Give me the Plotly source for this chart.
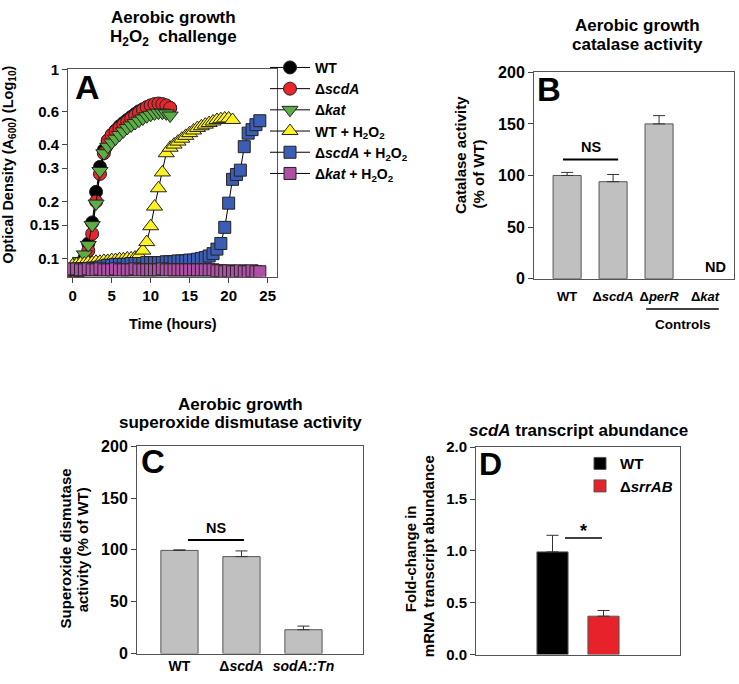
import plotly.graph_objects as go

W, H = 739, 684
FONT = "Liberation Sans, Arial, sans-serif"

# ---------------- Panel A data (OD600, log scale) ----------------
hours = [0, 0.5, 1, 1.5, 2, 2.5, 3, 3.5, 4, 4.5, 5, 5.5, 6, 6.5, 7, 7.5, 8, 8.5, 9, 9.5,
         10, 10.5, 11, 11.5, 12, 12.5, 13, 13.5, 14, 14.5, 15, 15.5, 16, 16.5, 17, 17.5,
         18, 18.5, 19, 19.5, 20, 20.5, 21, 21.5, 22, 22.5, 23, 23.5, 24]

od_wt = [0.085, 0.087, 0.09, 0.1, 0.12, 0.155, 0.225, 0.305, 0.375, 0.42, 0.45, 0.475, 0.5,
         0.52, 0.54, 0.56, 0.58, 0.6, 0.615, 0.63, 0.64, 0.65, 0.65, 0.65, 0.64, 0.625]
od_scda = [0.08, 0.082, 0.086, 0.095, 0.11, 0.135, 0.2, 0.28, 0.36, 0.42, 0.45, 0.47, 0.49,
           0.51, 0.53, 0.55, 0.57, 0.59, 0.61, 0.63, 0.645, 0.655, 0.66, 0.655, 0.645, 0.625]
od_kat = [0.085, 0.09, 0.097, 0.105, 0.118, 0.15, 0.195, 0.29, 0.36, 0.39, 0.41, 0.43, 0.45,
          0.47, 0.49, 0.505, 0.52, 0.535, 0.55, 0.565, 0.575, 0.585, 0.59, 0.59, 0.585, 0.57]
od_wt_h2o2 = [0.092, 0.093, 0.094, 0.094, 0.095, 0.095, 0.096, 0.096, 0.097, 0.097, 0.098,
              0.098, 0.099, 0.099, 0.1, 0.1, 0.101, 0.104, 0.11, 0.122, 0.148, 0.188, 0.235,
              0.285, 0.36, 0.385, 0.4, 0.415, 0.43, 0.445, 0.46, 0.475, 0.49, 0.5, 0.51, 0.52,
              0.53, 0.54, 0.545, 0.55, 0.55, 0.54]
od_scda_h2o2 = [0.087, 0.087, 0.088, 0.088, 0.088, 0.089, 0.089, 0.09, 0.091,
                0.092, 0.092, 0.093, 0.093, 0.093, 0.093, 0.094, 0.094, 0.094, 0.094, 0.095,
                0.095, 0.095, 0.095, 0.095, 0.096, 0.096, 0.096, 0.097, 0.097, 0.097, 0.098,
                0.098, 0.099, 0.1, 0.101, 0.103,
                0.106, 0.112, 0.12, 0.146, 0.196, 0.262, 0.278, 0.293, 0.39, 0.46, 0.48,
                0.51, 0.535]
od_kat_h2o2 = [0.088, 0.088, 0.087, 0.087, 0.088, 0.087, 0.087, 0.088, 0.087, 0.087,
               0.087, 0.088, 0.087, 0.087, 0.087, 0.087, 0.088, 0.087, 0.087, 0.087,
               0.087, 0.087, 0.087, 0.088, 0.087, 0.087, 0.087, 0.087, 0.087, 0.087,
               0.087, 0.087, 0.087, 0.087, 0.087, 0.087, 0.087, 0.086, 0.086, 0.085,
               0.086, 0.085, 0.085, 0.086, 0.085, 0.085, 0.086, 0.085, 0.085]

a_names = ["WT", "Δ<i>scdA</i>", "Δ<i>kat</i>", "WT + H<sub>2</sub>O<sub>2</sub>",
           "Δ<i>scdA</i> + H<sub>2</sub>O<sub>2</sub>", "Δ<i>kat</i> + H<sub>2</sub>O<sub>2</sub>"]
a_series = [od_wt, od_scda, od_kat, od_wt_h2o2, od_scda_h2o2, od_kat_h2o2]
a_colors = ["#000000", "#E8262B", "#5BAE44", "#FFF21E", "#3C5DB6", "#B04FA6"]
a_symbols = ["circle", "circle", "triangle-down", "triangle-up", "square", "square"]
a_sizes = [13, 13, 14, 14, 12, 12]
a_yticks = [0.1, 0.15, 0.2, 0.3, 0.4, 0.6, 1]
a_yticktext = ["0.1", "0.15", "0.2", "0.3", "0.4", "0.6", "1"]
a_xticks = [0, 5, 10, 15, 20, 25]

# ---------------- Panel B data (catalase) ----------------
b_categories = ["WT", "Δ<i>scdA</i>", "Δ<i>perR</i>", "Δ<i>kat</i>"]
b_values = [100, 94, 150, None]
b_errors = [3, 7, 8, None]

# ---------------- Panel C data (SOD) ----------------
c_categories = ["WT", "Δ<i>scdA</i>", "<i>sodA::Tn</i>"]
c_values = [99.5, 93.5, 23]
c_errors = [0.5, 5.5, 3.5]

# ---------------- Panel D data (scdA transcript) ----------------
d_categories = ["WT", "Δ<i>srrAB</i>"]
d_values = [0.99, 0.37]
d_errors = [0.16, 0.055]
d_colors = ["#000000", "#E8222A"]


def dom_x(p0, p1):
    return [p0 / W, p1 / W]


def dom_y(top, bottom):
    return [1 - bottom / H, 1 - top / H]


def tfont(size):
    return dict(size=size, family=FONT, color="black", weight="bold")


fig = go.Figure()

for name, vals, col, sym, sz in zip(a_names, a_series, a_colors, a_symbols, a_sizes):
    fig.add_trace(go.Scatter(
        x=hours[:len(vals)], y=vals, mode="lines+markers", name=name,
        line=dict(color="black", width=1),
        marker=dict(symbol=sym, size=sz, color=col, line=dict(color="#222222", width=1)),
        xaxis="x", yaxis="y", legend="legend"))

bar_line = dict(color="#555555", width=1)

fig.add_trace(go.Bar(
    x=b_categories, y=b_values, width=0.61,
    marker=dict(color="#C0C0C0", line=bar_line),
    error_y=dict(type="data", array=b_errors, arrayminus=[0] * len(b_errors), symmetric=False,
                 color="#333333", thickness=1, width=6),
    xaxis="x2", yaxis="y2", showlegend=False))

fig.add_trace(go.Bar(
    x=c_categories, y=c_values, width=0.6,
    marker=dict(color="#C0C0C0", line=bar_line),
    error_y=dict(type="data", array=c_errors, arrayminus=[0] * len(c_errors), symmetric=False,
                 color="#333333", thickness=1, width=6),
    xaxis="x3", yaxis="y3", showlegend=False))

for cat, val, err, col in zip(d_categories, d_values, d_errors, d_colors):
    fig.add_trace(go.Bar(
        x=[cat], y=[val], width=0.61, name=cat,
        marker=dict(color=col, line=bar_line),
        error_y=dict(type="data", array=[err], arrayminus=[0], symmetric=False,
                     color="#333333", thickness=1, width=6),
        xaxis="x4", yaxis="y4", legend="legend2"))

base = dict(showline=True, mirror=True, linecolor="#555555", linewidth=1,
            showgrid=False, zeroline=False)
tick_out = dict(ticks="outside", ticklen=5, tickcolor="#444444")
no_tick = dict(ticks="outside", ticklen=6, tickcolor="rgba(0,0,0,0)")

fig.update_layout(
    width=W, height=H, autosize=False,
    margin=dict(l=0, r=0, t=0, b=0),
    paper_bgcolor="white", plot_bgcolor="white",
    font=dict(family=FONT, color="black", size=14, weight="bold"),
    barmode="overlay",
    xaxis=dict(domain=dom_x(68, 277), range=[-0.6, 26.2], tickvals=a_xticks, anchor="y",
               tickfont=tfont(15), **base, **tick_out),
    yaxis=dict(domain=dom_y(62, 275), type="log", range=[-1.097, 0], tickvals=a_yticks,
               ticktext=a_yticktext, anchor="x", tickfont=tfont(15), **base, **tick_out),
    xaxis2=dict(domain=dom_x(534, 734), range=[-0.72, 3.63], anchor="y2",
                tickfont=tfont(13), **base, **no_tick),
    yaxis2=dict(domain=dom_y(65, 277), range=[0, 200], tickvals=[0, 50, 100, 150, 200], anchor="x2",
                tickfont=tfont(16), **base, **tick_out),
    xaxis3=dict(domain=dom_x(137, 363), range=[-0.685, 2.96], anchor="y3",
                tickfont=tfont(14), ticks="", **base),
    yaxis3=dict(domain=dom_y(449, 662), range=[0, 200], tickvals=[0, 50, 100, 150, 200], anchor="x3",
                tickfont=tfont(16), **base, **tick_out),
    xaxis4=dict(domain=dom_x(476, 680), range=[-1.5, 2.5], anchor="y4", showticklabels=False,
                ticks="", **base),
    yaxis4=dict(domain=dom_y(450, 663), range=[0, 2], tickvals=[0, 0.5, 1.0, 1.5, 2.0], tickformat=".1f",
                anchor="x4", tickfont=tfont(15), **base, **tick_out),
    legend=dict(x=265 / W, y=1 - 44 / H, xanchor="left", yanchor="top", bgcolor="rgba(0,0,0,0)",
                tracegroupgap=0, itemwidth=40, font=tfont(14)),
    legend2=dict(x=580 / W, y=1 - 450 / H, xanchor="left", yanchor="top", bgcolor="rgba(0,0,0,0)",
                 tracegroupgap=0, font=tfont(15)),
)


def pann(text, px, py, size=14, angle=0, **kw):
    d = dict(text=text, xref="paper", yref="paper", x=px / W, y=1 - py / H, showarrow=False,
             textangle=angle, xanchor="center", yanchor="middle", font=tfont(size))
    d.update(kw)
    return d


annotations = [
    # Panel A
    pann("Aerobic growth", 173, 9, 17),
    pann("H<sub>2</sub>O<sub>2</sub>  challenge", 173, 30, 17),
    pann("A", 87, 80, 34),
    pann("Optical Density (A<sub>600</sub>) (Log<sub>10</sub>)", 9, 160, 14.5, -90),
    pann("Time (hours)", 173, 324, 14.5),
    # Panel B
    pann("Aerobic growth", 637, 17, 17),
    pann("catalase activity", 637, 36, 17),
    pann("B", 549, 83, 33),
    pann("Catalase activity", 460, 150, 15, -90),
    pann("(% of WT)", 479, 170, 15, -90),
    pann("Controls", 683, 324, 13.5),
    dict(text="NS", xref="x2", yref="y2", x=0.52, y=127.5, showarrow=False, font=tfont(14.5)),
    dict(text="ND", xref="x2", yref="y2", x=3.22, y=11.5, showarrow=False, font=tfont(14.5)),
    # Panel C
    pann("Aerobic growth", 240, 406, 17),
    pann("superoxide dismutase activity", 240, 425, 17),
    pann("C", 153, 465, 33),
    pann("Superoxide dismutase", 65, 554, 15, -90),
    pann("activity (% of WT)", 82, 556, 15, -90),
    dict(text="NS", xref="x3", yref="y3", x=0.59, y=121, showarrow=False, font=tfont(14.5)),
    # Panel D
    pann("<i>scdA</i> transcript abundance", 578, 433, 17),
    pann("D", 490, 467, 32),
    pann("Fold-change in", 410, 565, 15, -90),
    pann("mRNA transcript abundance", 428, 562, 15, -90),
    dict(text="*", xref="x4", yref="y4", x=0.6, y=1.19, showarrow=False, font=tfont(18)),
]

shapes = [
    dict(type="line", xref="x2", yref="y2", x0=-0.09, x1=1.11, y0=115.6, y1=115.6,
         line=dict(color="black", width=2)),
    dict(type="line", xref="x2", yref="paper", x0=1.72, x1=3.3, y0=1 - 308 / H, y1=1 - 308 / H,
         line=dict(color="black", width=1.5)),
    dict(type="line", xref="x3", yref="y3", x0=0.137, x1=1.04, y0=109.6, y1=109.6,
         line=dict(color="black", width=2)),
    dict(type="line", xref="x4", yref="y4", x0=0.245, x1=0.97, y0=1.124, y1=1.124,
         line=dict(color="black", width=1.5)),
]

fig.update_layout(annotations=annotations, shapes=shapes)

# remove the browser's default 8px page margin so the figure sits at the window origin
fig.write_html("out.html", config={"displayModeBar": False},
               post_script="document.body.style.margin='0px';")
